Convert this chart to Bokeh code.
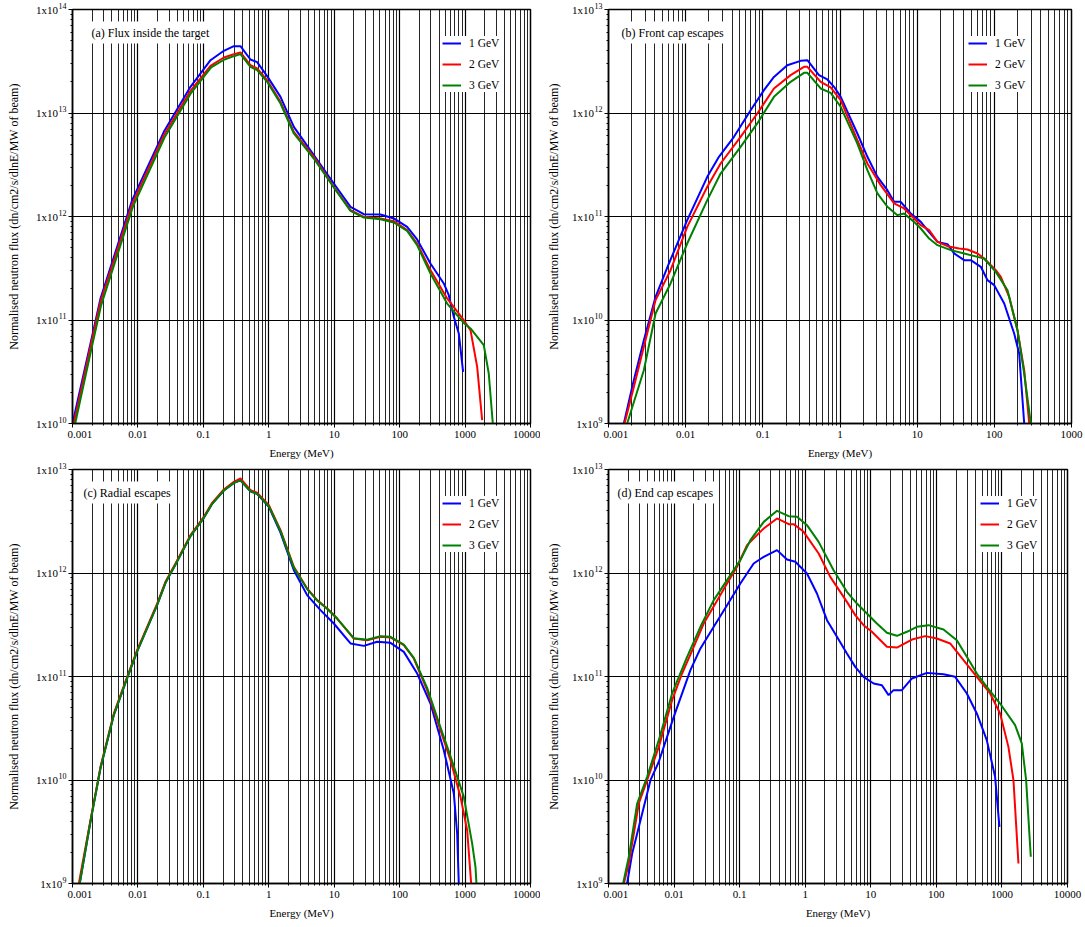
import math
from bokeh.plotting import figure
from bokeh.models import (Range1d, FixedTicker, CustomJSTickFormatter, Legend,
                          LegendItem, Label)
from bokeh.core.properties import value
from bokeh.layouts import column, row
from bokeh.embed import file_html
from bokeh.resources import INLINE

# ---------------- data (log10 of energy in MeV, log10 of flux) ----------------
series_names = ["1 GeV", "2 GeV", "3 GeV"]
series_colors = ["#0000ff", "#ff0000", "#008000"]

x_ticks = [0.001, 0.01, 0.1, 1, 10, 100, 1000, 10000]
x_tick_labels = ["0.001", "0.01", "0.1", "1", "10", "100", "1000", "10000"]
y_ticks = [1e9, 1e10, 1e11, 1e12, 1e13, 1e14]
y_tick_base = "1x10"
y_tick_exponents = ["9", "10", "11", "12", "13", "14"]

# (a) Flux inside the target
a1_logE = [-3.0, -2.725, -2.572, -2.088, -1.604, -1.197, -0.891, -0.687, -0.534, -0.433, -0.280, -0.178, -0.025, 0.179, 0.383, 0.688, 0.994, 1.249, 1.452, 1.707, 1.911, 2.115, 2.267, 2.471, 2.675, 2.751, 2.828, 2.904, 2.970]
a1_logF = [10.0, 10.773, 11.208, 12.158, 12.818, 13.253, 13.510, 13.601, 13.646, 13.646, 13.517, 13.491, 13.356, 13.156, 12.866, 12.593, 12.319, 12.093, 12.022, 12.019, 11.981, 11.900, 11.778, 11.546, 11.353, 11.240, 11.031, 10.870, 10.499]
a2_logE = [-2.980, -2.725, -2.572, -2.088, -1.604, -1.197, -0.891, -0.687, -0.534, -0.433, -0.280, -0.178, -0.025, 0.179, 0.383, 0.688, 0.994, 1.249, 1.452, 1.707, 1.911, 2.115, 2.267, 2.471, 2.726, 2.980, 3.083, 3.185, 3.261]
a2_logF = [10.0, 10.741, 11.176, 12.119, 12.786, 13.214, 13.456, 13.536, 13.568, 13.585, 13.462, 13.430, 13.317, 13.108, 12.818, 12.576, 12.287, 12.061, 11.997, 11.981, 11.955, 11.868, 11.739, 11.482, 11.208, 10.998, 10.902, 10.547, 10.032]
a3_logE = [-2.959, -2.715, -2.562, -2.078, -1.594, -1.186, -0.881, -0.677, -0.534, -0.433, -0.280, -0.178, -0.025, 0.179, 0.383, 0.688, 0.994, 1.249, 1.452, 1.707, 1.911, 2.115, 2.267, 2.471, 2.726, 2.980, 3.083, 3.286, 3.362, 3.424]
a3_logF = [10.0, 10.709, 11.144, 12.093, 12.763, 13.195, 13.440, 13.517, 13.549, 13.569, 13.446, 13.414, 13.301, 13.092, 12.802, 12.560, 12.280, 12.055, 11.990, 11.974, 11.942, 11.861, 11.723, 11.449, 11.159, 10.972, 10.918, 10.757, 10.483, 10.0]

# (b) Front cap escapes
b1_logE = [-2.801, -2.693, -2.542, -2.390, -2.217, -1.980, -1.720, -1.569, -1.374, -1.158, -0.985, -0.856, -0.683, -0.510, -0.423, -0.272, -0.164, -0.077, 0.009, 0.225, 0.355, 0.485, 0.614, 0.701, 0.787, 0.917, 1.047, 1.133, 1.263, 1.393, 1.479, 1.609, 1.695, 1.825, 1.911, 1.998, 2.128, 2.257, 2.322, 2.387]
b1_logF = [9.0, 9.354, 9.805, 10.224, 10.546, 10.965, 11.383, 11.577, 11.770, 12.027, 12.221, 12.349, 12.462, 12.504, 12.510, 12.366, 12.324, 12.253, 12.156, 11.802, 11.577, 11.383, 11.254, 11.142, 11.142, 11.029, 10.948, 10.868, 10.755, 10.733, 10.643, 10.578, 10.578, 10.514, 10.385, 10.337, 10.159, 9.870, 9.676, 9.0]
b2_logE = [-2.792, -2.671, -2.542, -2.390, -2.196, -1.980, -1.720, -1.547, -1.288, -1.072, -0.856, -0.640, -0.467, -0.423, -0.250, -0.121, 0.009, 0.225, 0.355, 0.528, 0.701, 0.830, 0.960, 1.047, 1.155, 1.263, 1.393, 1.544, 1.652, 1.782, 1.868, 2.019, 2.084, 2.192, 2.300, 2.387, 2.452]
b2_logF = [9.0, 9.354, 9.741, 10.192, 10.481, 10.900, 11.287, 11.512, 11.770, 11.995, 12.237, 12.366, 12.446, 12.446, 12.301, 12.247, 12.124, 11.738, 11.512, 11.303, 11.126, 11.078, 10.981, 10.916, 10.868, 10.755, 10.713, 10.691, 10.681, 10.643, 10.594, 10.481, 10.417, 10.224, 9.902, 9.515, 9.0]
b3_logE = [-2.758, -2.542, -2.390, -2.196, -1.980, -1.720, -1.547, -1.288, -1.072, -0.856, -0.640, -0.467, -0.423, -0.250, -0.121, 0.009, 0.225, 0.355, 0.485, 0.614, 0.744, 0.830, 0.960, 1.047, 1.155, 1.263, 1.436, 1.609, 1.782, 1.868, 2.019, 2.171, 2.300, 2.387, 2.473]
b3_logF = [9.0, 9.515, 10.063, 10.353, 10.739, 11.158, 11.415, 11.673, 11.899, 12.156, 12.301, 12.388, 12.388, 12.237, 12.195, 12.060, 11.705, 11.448, 11.223, 11.094, 11.013, 11.029, 10.948, 10.884, 10.787, 10.723, 10.675, 10.643, 10.610, 10.594, 10.465, 10.288, 9.902, 9.483, 9.0]

# (c) Radial escapes
c1_logE = [-2.890, -2.725, -2.572, -2.368, -2.165, -2.012, -1.859, -1.706, -1.579, -1.426, -1.197, -0.993, -0.866, -0.687, -0.534, -0.433, -0.280, -0.178, 0.001, 0.179, 0.383, 0.586, 0.790, 0.994, 1.249, 1.452, 1.656, 1.860, 2.064, 2.268, 2.471, 2.675, 2.828, 2.879, 2.904]
c1_logF = [9.0, 9.600, 10.115, 10.630, 10.985, 11.242, 11.468, 11.693, 11.905, 12.082, 12.356, 12.533, 12.668, 12.797, 12.871, 12.895, 12.790, 12.765, 12.640, 12.390, 12.027, 11.786, 11.641, 11.512, 11.319, 11.296, 11.335, 11.325, 11.238, 11.029, 10.739, 10.288, 9.870, 9.483, 9.0]
c2_logE = [-2.903, -2.725, -2.572, -2.368, -2.165, -2.012, -1.859, -1.706, -1.579, -1.426, -1.197, -0.993, -0.866, -0.687, -0.534, -0.433, -0.280, -0.178, 0.001, 0.179, 0.383, 0.586, 0.739, 0.892, 1.045, 1.299, 1.503, 1.707, 1.860, 2.064, 2.217, 2.420, 2.624, 2.777, 2.930, 3.032, 3.093]
c2_logF = [9.0, 9.612, 10.127, 10.643, 10.997, 11.254, 11.480, 11.705, 11.915, 12.092, 12.366, 12.543, 12.678, 12.807, 12.881, 12.913, 12.800, 12.775, 12.655, 12.414, 12.060, 11.850, 11.738, 11.657, 11.560, 11.367, 11.351, 11.383, 11.377, 11.303, 11.174, 10.868, 10.481, 10.192, 9.837, 9.515, 9.0]
c3_logE = [-2.890, -2.725, -2.572, -2.368, -2.165, -2.012, -1.859, -1.706, -1.579, -1.426, -1.197, -0.993, -0.866, -0.687, -0.534, -0.433, -0.280, -0.178, 0.001, 0.179, 0.383, 0.586, 0.739, 0.892, 1.045, 1.299, 1.503, 1.707, 1.860, 2.064, 2.217, 2.420, 2.624, 2.777, 2.981, 3.108, 3.159, 3.174]
c3_logF = [9.0, 9.600, 10.115, 10.630, 10.985, 11.242, 11.468, 11.693, 11.905, 12.082, 12.356, 12.533, 12.668, 12.797, 12.871, 12.895, 12.790, 12.765, 12.645, 12.404, 12.050, 11.845, 11.735, 11.655, 11.560, 11.370, 11.355, 11.390, 11.383, 11.308, 11.180, 10.890, 10.510, 10.230, 9.837, 9.387, 9.161, 9.0]

# (d) End cap escapes
d1_logE = [-2.716, -2.639, -2.512, -2.360, -2.233, -2.005, -1.751, -1.598, -1.395, -1.192, -0.989, -0.786, -0.633, -0.430, -0.278, -0.151, 0.027, 0.179, 0.332, 0.484, 0.636, 0.763, 0.890, 1.043, 1.170, 1.271, 1.347, 1.474, 1.627, 1.855, 2.109, 2.287, 2.465, 2.617, 2.769, 2.896, 2.962]
d1_logF = [9.0, 9.290, 9.612, 9.998, 10.176, 10.610, 11.061, 11.271, 11.480, 11.689, 11.899, 12.092, 12.156, 12.221, 12.130, 12.108, 11.995, 11.802, 11.544, 11.383, 11.222, 11.093, 10.997, 10.932, 10.916, 10.820, 10.868, 10.868, 10.981, 11.035, 11.022, 10.997, 10.836, 10.643, 10.385, 10.031, 9.547]
d2_logE = [-2.766, -2.690, -2.538, -2.411, -2.233, -2.030, -1.878, -1.700, -1.548, -1.370, -1.192, -1.040, -0.887, -0.633, -0.430, -0.252, -0.176, -0.024, 0.205, 0.382, 0.636, 0.763, 0.890, 1.017, 1.246, 1.398, 1.627, 1.830, 2.008, 2.211, 2.414, 2.617, 2.820, 2.972, 3.099, 3.176, 3.252]
d2_logF = [9.0, 9.193, 9.773, 9.998, 10.320, 10.771, 11.029, 11.287, 11.512, 11.705, 11.899, 12.060, 12.269, 12.430, 12.527, 12.472, 12.472, 12.398, 12.188, 11.963, 11.721, 11.593, 11.496, 11.432, 11.287, 11.280, 11.357, 11.390, 11.367, 11.319, 11.158, 10.997, 10.836, 10.643, 10.320, 9.998, 9.193]
d3_logE = [-2.777, -2.690, -2.563, -2.411, -2.233, -2.030, -1.801, -1.598, -1.395, -1.192, -0.989, -0.836, -0.633, -0.430, -0.252, -0.125, 0.027, 0.205, 0.433, 0.636, 0.789, 0.941, 1.093, 1.246, 1.398, 1.551, 1.703, 1.881, 2.109, 2.312, 2.465, 2.617, 2.769, 2.972, 3.201, 3.303, 3.369, 3.440]
d3_logF = [9.0, 9.258, 9.773, 10.031, 10.385, 10.836, 11.190, 11.480, 11.738, 11.931, 12.124, 12.317, 12.494, 12.601, 12.549, 12.543, 12.462, 12.301, 12.027, 11.818, 11.705, 11.609, 11.512, 11.422, 11.393, 11.432, 11.480, 11.496, 11.454, 11.351, 11.190, 11.029, 10.900, 10.739, 10.530, 10.353, 9.998, 9.258]

panel_titles = ["(a) Flux inside the target", "(b) Front cap escapes",
                "(c) Radial escapes", "(d) End cap escapes"]
x_label = "Energy (MeV)"
y_label = "Normalised neutron flux (dn/cm2/s/dlnE/MW of beam)"

FONT = "Liberation Serif"

X_FMT_CODE = """
for (let i = 0; i < tvals.length; i++) {
  if (Math.abs(Math.log10(tvals[i]) - Math.log10(tick)) < 1e-6) return tlabels[i];
}
return "";
"""


def make_label_strip(yr, width, height, bt, bb):
    """Narrow figure left of a panel holding the y tick labels (1x10 + raised
    exponent) and the rotated y-axis title, on the same log scale."""
    common = dict(width=width, height=height, y_axis_type="log",
                  x_range=Range1d(0, width),
                  x_axis_location=None, y_axis_location=None,
                  output_backend="svg", toolbar_location=None, tools="",
                  min_border_left=0, min_border_right=0,
                  min_border_top=0, min_border_bottom=0,
                  background_fill_color="white", border_fill_color="white")
    fh = height - bt - bb
    lo, hi = math.log10(yr[0]), math.log10(yr[1])
    per_px = (hi - lo) / fh
    try:
        # own full-height frame (not aligned with the neighbouring panel)
        yr_ext = (10 ** (lo - bb * per_px), 10 ** (hi + bt * per_px))
        s = figure(y_range=Range1d(*yr_ext), frame_align=False, **common)
    except Exception:
        # frame gets aligned with the panel's frame
        s = figure(y_range=Range1d(*yr), **common)
    s.outline_line_color = None
    s.grid.visible = False
    ticks = [t for t in y_ticks if yr[0] <= t <= yr[1]]
    exps = [e for t, e in zip(y_ticks, y_tick_exponents) if yr[0] <= t <= yr[1]]
    right = width - 1
    s.text(x=[right] * len(ticks), y=ticks, text=exps,
           text_font=value(FONT), text_font_size="8px", text_color="black",
           text_align="right", text_baseline="middle", y_offset=-4)
    s.text(x=[right - 4.2 * len(e) for e in exps], y=ticks,
           text=[y_tick_base] * len(ticks),
           text_font=value(FONT), text_font_size="11px", text_color="black",
           text_align="right", text_baseline="middle")
    s.text(x=[13], y=[math.sqrt(yr[0] * yr[1])], text=[y_label],
           angle=math.pi / 2, text_font=value(FONT), text_font_size="12px",
           text_color="black", text_align="center", text_baseline="middle")
    return s


def make_panel(title, series, xr, yr, width, height, bl, br, bt, bb,
               legend_left, title_dx):
    p = figure(width=width, height=height, x_axis_type="log", y_axis_type="log",
               x_range=Range1d(*xr), y_range=Range1d(*yr),
               output_backend="svg", toolbar_location=None,
               min_border_left=bl, min_border_right=br,
               min_border_top=bt, min_border_bottom=bb,
               background_fill_color="white", border_fill_color="white")
    p.outline_line_color = "black"
    p.outline_line_width = 1.5

    xt = [t for t in x_ticks if xr[0] <= t <= xr[1]]
    xminor = [m * t for t in xt[:-1] for m in range(2, 10)]
    yt = [t for t in y_ticks if yr[0] <= t <= yr[1]]
    yminor = [m * t for t in yt[:-1] for m in range(2, 10)]
    p.xaxis.ticker = FixedTicker(ticks=xt, minor_ticks=xminor)
    p.yaxis.ticker = FixedTicker(ticks=yt, minor_ticks=yminor)
    p.xaxis.formatter = CustomJSTickFormatter(
        args=dict(tvals=x_ticks, tlabels=x_tick_labels), code=X_FMT_CODE)
    # y tick labels live in the strip figure to the left
    p.yaxis.formatter = CustomJSTickFormatter(code='return "";')

    for ax in (p.xaxis[0], p.yaxis[0]):
        ax.axis_line_color = "black"
        ax.axis_line_width = 1.5
        ax.major_tick_in = 0
        ax.major_tick_out = 4
        ax.minor_tick_in = 0
        ax.minor_tick_out = 2
        ax.major_tick_line_color = "black"
        ax.minor_tick_line_color = "black"
        ax.major_label_text_font = FONT
        ax.major_label_text_font_size = "11px"
        ax.major_label_text_color = "black"
        ax.axis_label_text_font = FONT
        ax.axis_label_text_font_size = "11px"
        ax.axis_label_text_font_style = "normal"
        ax.axis_label_text_color = "black"
    p.xaxis.major_label_standoff = 3
    p.xaxis.axis_label_standoff = 6
    p.yaxis.major_label_standoff = 0
    p.xaxis.axis_label = x_label

    p.xgrid.grid_line_color = "black"
    p.xgrid.grid_line_width = 1.2
    p.xgrid.minor_grid_line_color = "black"
    p.xgrid.minor_grid_line_width = 1
    p.xgrid.minor_grid_line_alpha = 0.85
    p.ygrid.grid_line_color = "black"
    p.ygrid.grid_line_width = 1.2
    p.ygrid.minor_grid_line_color = None

    items = []
    for (lx, ly), name, color in zip(series, series_names, series_colors):
        xs = [10 ** v for v in lx]
        ys = [10 ** v for v in ly]
        r = p.line(xs, ys, line_color=color, line_width=2)
        items.append(LegendItem(label=name, renderers=[r]))

    frame_h = height - bt - bb
    leg_h = 66
    legend = Legend(items=items, location=(legend_left, frame_h - 17 - leg_h),
                    background_fill_color="white", background_fill_alpha=1,
                    border_line_color=None, padding=5, spacing=7, margin=0,
                    glyph_width=19, glyph_height=14, label_height=14,
                    label_standoff=8, label_text_font=FONT,
                    label_text_font_size="11.5px", label_text_color="black")
    p.add_layout(legend)

    lab = Label(x=title_dx, y=frame_h - 23, x_units="screen", y_units="screen",
                text=title, text_font=FONT, text_font_size="12px",
                text_color="black", text_baseline="middle",
                background_fill_color="white", padding=4)
    p.add_layout(lab)
    return p


YR_A = (1e10, 1e14)
YR_B = (1e9, 1e13)

sa = make_label_strip(YR_A, 67, 462, 9, 39)
pa = make_panel(panel_titles[0],
                [(a1_logE, a1_logF), (a2_logE, a2_logF), (a3_logE, a3_logF)],
                (0.001, 10000), YR_A, 473, 462, 5, 10, 9, 39, 370, 15)
sb = make_label_strip(YR_B, 63, 462, 9, 39)
pb = make_panel(panel_titles[1],
                [(b1_logE, b1_logF), (b2_logE, b2_logF), (b3_logE, b3_logF)],
                (0.001, 1000), YR_B, 482, 462, 5, 14, 9, 39, 360, 9)
sc = make_label_strip(YR_B, 67, 465, 7, 44)
pc = make_panel(panel_titles[2],
                [(c1_logE, c1_logF), (c2_logE, c2_logF), (c3_logE, c3_logF)],
                (0.001, 10000), YR_B, 473, 465, 5, 10, 7, 44, 370, 7)
sd = make_label_strip(YR_B, 63, 465, 7, 44)
pd = make_panel(panel_titles[3],
                [(d1_logE, d1_logF), (d2_logE, d2_logF), (d3_logE, d3_logF)],
                (0.001, 10000), YR_B, 482, 465, 5, 18, 7, 44, 372, 5)

layout = column(row(sa, pa, sb, pb), row(sc, pc, sd, pd))
open("out.html", "w").write(file_html(layout, INLINE))
